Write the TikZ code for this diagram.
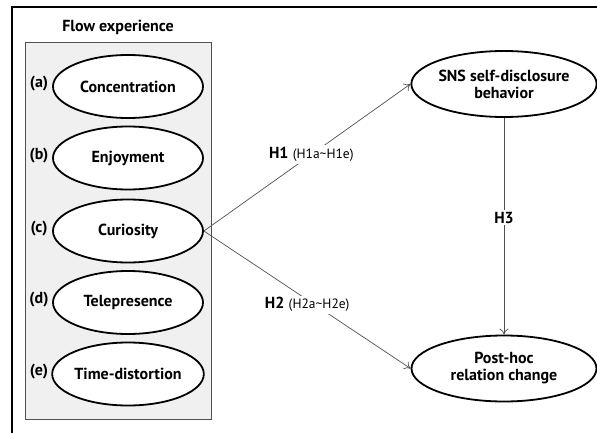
\documentclass[tikz,border=0pt]{standalone}
\usepackage{fontspec}
\setmainfont{PT Sans}
\usetikzlibrary{shapes.geometric,arrows.meta}
\definecolor{boxgray}{HTML}{F0F0F0}
\definecolor{linegray}{HTML}{505050}
\tikzset{
  oval/.style={ellipse, draw=black, line width=1.8pt, fill=white, minimum width=150pt, minimum height=63pt, inner sep=0pt, font=\bfseries\fontsize{16}{17}\selectfont, align=center},
  bigoval/.style={oval, minimum width=185pt, minimum height=66pt},
  tag/.style={font=\bfseries\fontsize{16}{17}\selectfont, inner sep=0pt},
  conn/.style={draw=linegray, line width=0.7pt, -{To[length=6pt,width=9pt]}},
  hlabel/.style={fill=white, inner sep=2pt, font=\fontsize{16}{17}\selectfont},
}
\begin{document}
\begin{tikzpicture}[x=1pt,y=-1pt]
\useasboundingbox (0,0) rectangle (597,433);
% outer frame
\coordinate (ftl) at (12,7);
\coordinate (ftr) at (598,7);
\coordinate (fbl) at (12,434);
\draw[line width=1.3pt] (ftr) -- (ftl) -- (fbl);
% gray group box
\node[draw=linegray, fill=boxgray, line width=0.9pt, minimum width=186pt, minimum height=377pt, inner sep=0pt] (grp) at (118,230.5) {};
\node[tag] (title) at (118,27) {Flow experience};
% factor ellipses
\node[oval] (conc) at (128,86.5) {Concentration};
\node[oval] (enj)  at (128,158) {Enjoyment};
\node[oval] (cur)  at (128,231) {Curiosity};
\node[oval] (tel)  at (128,302.5) {Telepresence};
\node[oval] (time) at (128,374) {Time-distortion};
\node[tag] (la) at (39,84) {(a)};
\node[tag] (lb) at (39,156) {(b)};
\node[tag] (lc) at (39,229) {(c)};
\node[tag] (ld) at (39,300) {(d)};
\node[tag] (le) at (39,372) {(e)};
% outcome ellipses
\node[bigoval] (sns)  at (504,84) {SNS self-disclosure\\behavior};
\node[bigoval] (post) at (504,368.5) {Post-hoc\\relation change};
% connectors
\draw[conn] (cur.east) -- node[hlabel, pos=0.52] {\textbf{H1} {\fontsize{13.5}{15}\selectfont(H1a\textasciitilde H1e)}} (sns.west);
\draw[conn] (cur.east) -- node[hlabel, pos=0.5, yshift=-5pt] {\textbf{H2} {\fontsize{13.5}{15}\selectfont(H2a\textasciitilde H2e)}} (post.west);
\draw[conn] (sns.south) -- node[hlabel, pos=0.46, font=\bfseries\fontsize{16}{17}\selectfont] {H3} (post.north);
\end{tikzpicture}
\end{document}
